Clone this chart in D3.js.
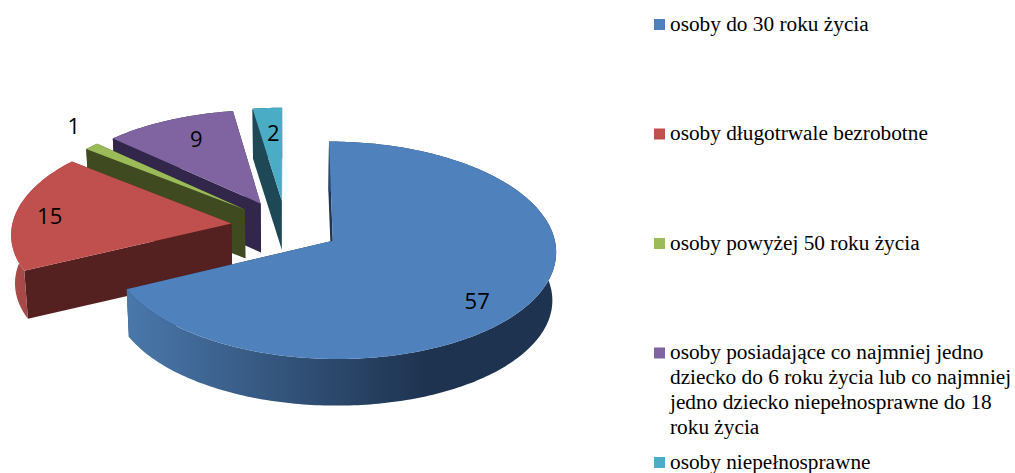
<!DOCTYPE html>
<html>
<head>
<meta charset="utf-8">
<script src="https://cdn.jsdelivr.net/npm/d3@7"></script>
<style>
html, body { margin: 0; padding: 0; background: #fff; }
svg { display: block; }
.value { font-family: "Open Sans", sans-serif; font-size: 22px; fill: #000; text-anchor: middle; }
.legend { font-family: "Liberation Serif", serif; font-size: 21.3px; fill: #000; }
</style>
</head>
<body>
<svg id="myGraph" width="1015" height="473"></svg>
<script>
var categories = ["osoby do 30 roku życia", "osoby długotrwale bezrobotne", "osoby powyżej 50 roku życia",
    "osoby posiadające co najmniej jedno dziecko do 6 roku życia lub co najmniej jedno dziecko niepełnosprawne do 18 roku życia",
    "osoby niepełnosprawne"];
var values = [57, 15, 1, 9, 2];
var legendLines = [
    ["osoby do 30 roku życia"],
    ["osoby długotrwale bezrobotne"],
    ["osoby powyżej 50 roku życia"],
    ["osoby posiadające co najmniej jedno", "dziecko do 6 roku życia lub co najmniej", "jedno dziecko niepełnosprawne do 18", "roku życia"],
    ["osoby niepełnosprawne"]
];
var topColors  = ["#4f81bd", "#c0504d", "#9bbb59", "#8064a2", "#4bacc6"];
var wallColors = ["#1f3552", "#552120", "#404a20", "#32274a", "#1e4855"];
var rimLight   = ["#4a78ab", "#ab4c49", "#55672f", "#473860", "#2a6070"];
var rimDark    = ["#1e3350", "#a04744", "#404a20", "#32274a", "#1e4855"];
/* 데이터 라벨 위치 (반지름 비율 + 보정) */
var labelFrac  = [0.84, 0.83, 1.13, 0.64, 0.64];
var labelDx    = [-22, -3, 1, -4, 1];
var labelDy    = [10, 2, -13, -10, -7];

var svg = d3.select("#myGraph");

var cx = 285.8, cy = 226.5, R = 219.5, ry = 105.4, persp = 0.087;
var depth = 48.5, bottomScale = 0.986, explode = 0.25;

var color = d3.scaleOrdinal().domain(categories).range(topColors);
var wall  = d3.scaleOrdinal().domain(categories).range(wallColors);

var slices = d3.pie().sort(null)(values);
slices.forEach(function(s, i) { s.name = categories[i]; s.index = i; });

// 원판 좌표 -> 화면 좌표
function project(u, v, bottom) {
    var p = 1 - persp * v;
    var k = bottom ? bottomScale : 1;
    return [cx + k * R * u / p, cy + k * ry * v / p + (bottom ? depth : 0)];
}
function offset(s) {
    var mid = (s.startAngle + s.endAngle) / 2;
    return [explode * Math.sin(mid), -explode * Math.cos(mid)];
}
function rimPoint(s, a, bottom) {
    var o = offset(s);
    return project(o[0] + Math.sin(a), o[1] - Math.cos(a), bottom);
}
function apex(s, bottom) {
    var o = offset(s);
    return project(o[0], o[1], bottom);
}
function arcAngles(s) {
    var out = d3.range(s.startAngle, s.endAngle, Math.PI / 180);
    out.push(s.endAngle);
    return out;
}
var line = d3.line();
function topPath(s) {
    var pts = [apex(s, false)].concat(arcAngles(s).map(function(a) { return rimPoint(s, a, false); }));
    return line(pts) + "Z";
}
function rimPath(s) {
    var ang = arcAngles(s);
    var pts = ang.map(function(a) { return rimPoint(s, a, false); })
        .concat(ang.slice().reverse().map(function(a) { return rimPoint(s, a, true); }));
    return line(pts) + "Z";
}
function wallPath(s, a) {
    return line([apex(s, false), rimPoint(s, a, false), rimPoint(s, a, true), apex(s, true)]) + "Z";
}

var defs = svg.append("defs");
var grads = defs.selectAll("linearGradient")
    .data(slices)
    .enter().append("linearGradient")
        .attr("id", function(d) { return "rim" + d.index; })
        .attr("gradientUnits", "userSpaceOnUse")
        .attr("x1", function(d) { return d.index == 0 ? rimPoint(d, d.endAngle, false)[0] : 10; })
        .attr("x2", function(d) { return d.index == 0 ? 425 : 40; })
        .attr("y1", 0).attr("y2", 0);
grads.append("stop").attr("offset", "0%").attr("stop-color", function(d) { return rimLight[d.index]; });
grads.append("stop").attr("offset", "100%").attr("stop-color", function(d) { return rimDark[d.index]; });

// 뒤쪽 조각부터 그린다
var order = [4, 3, 2, 1, 0];
var sliceG = svg.selectAll("g.slice")
    .data(order.map(function(i) { return slices[i]; }))
    .enter().append("g")
        .attr("class", "slice");

sliceG.append("path")
    .attr("d", function(d) { return wallPath(d, d.startAngle); })
    .attr("fill", function(d) { return wall(d.name); });
sliceG.append("path")
    .attr("d", function(d) { return wallPath(d, d.endAngle); })
    .attr("fill", function(d) { return wall(d.name); });
sliceG.append("path")
    .attr("d", rimPath)
    .attr("fill", function(d) { return "url(#rim" + d.index + ")"; });
sliceG.append("path")
    .attr("d", topPath)
    .attr("fill", function(d) { return color(d.name); });

/* 값 표시 */
svg.selectAll("text.value")
    .data(slices)
    .enter().append("text")
        .attr("class", "value")
        .text(function(d) { return d.data; })
        .attr("x", function(d) { return labelPos(d)[0] + labelDx[d.index]; })
        .attr("y", function(d) { return labelPos(d)[1] + 8 + labelDy[d.index]; });

function labelPos(d) {
    var o = offset(d), mid = (d.startAngle + d.endAngle) / 2, f = labelFrac[d.index];
    return project(o[0] + f * Math.sin(mid), o[1] - f * Math.cos(mid), false);
}

/* 범례 */
var legendY = d3.scaleLinear().domain([0, categories.length - 1]).range([24, 462]);
var legendG = svg.selectAll("g.legendItem")
    .data(categories)
    .enter().append("g")
        .attr("class", "legendItem")
        .attr("transform", function(d, i) { return "translate(654," + legendY(i) + ")"; });
legendG.append("rect")
    .attr("x", 0).attr("y", -5)
    .attr("width", 11).attr("height", 11)
    .attr("fill", function(d) { return color(d); });
legendG.append("text")
    .attr("class", "legend")
    .selectAll("tspan")
    .data(function(d, i) { return legendLines[i]; })
    .enter().append("tspan")
        .attr("x", 16)
        .attr("y", function(d, i) { return 6.5 + i * 25; })
        .text(function(d) { return d; });
</script>
</body>
</html>
